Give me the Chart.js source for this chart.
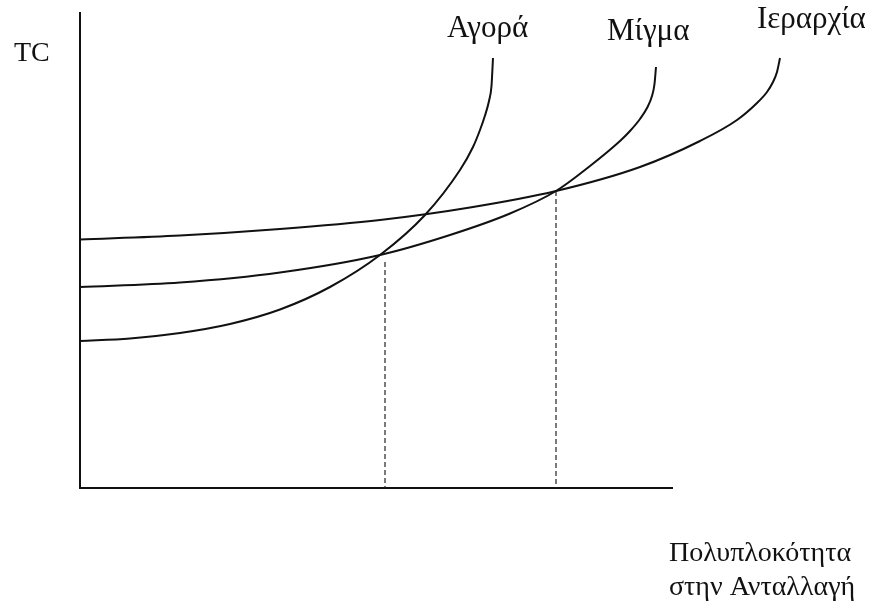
<!DOCTYPE html>
<html>
<head>
<meta charset="utf-8">
<script src="https://cdn.jsdelivr.net/npm/chart.js@4.4.1/dist/chart.umd.min.js"></script>
<style>
  html, body { margin: 0; padding: 0; background: #fff; }
  #wrap { width: 869px; height: 602px; position: relative; }
</style>
</head>
<body>
<div id="wrap"><canvas id="tc_chart"></canvas></div>
<script>
// curves (x = complexity, y = transaction cost, arbitrary units)
var agoraX    = [0, 5, 10, 15, 20, 25, 30, 34.5, 38, 39.3, 40, 40.5, 40.9, 41.15, 41.3];
var agoraY    = [14.7, 14.95, 15.5, 16.4, 17.85, 20.1, 23.3, 27.3, 31.8, 34.1, 35.8, 37.25, 38.7, 40.2, 43.0];

var migmaX    = [0, 10, 20, 30, 37, 43, 47.6, 51, 54, 55, 56, 56.7, 57.2, 57.45, 57.6];
var migmaY    = [20.1, 20.55, 21.55, 23.3, 25.3, 27.45, 29.7, 32.2, 34.7, 35.7, 36.9, 38.0, 39.2, 40.4, 42.1];

var ierarxiaX = [0, 10, 20, 30, 39, 47.6, 56, 62, 65.7, 67.7, 68.7, 69.3, 69.7, 70];
var ierarxiaY = [24.85, 25.25, 25.9, 26.8, 28.05, 29.7, 32.1, 34.7, 36.8, 38.5, 39.6, 40.6, 41.6, 43.0];

// dashed drop lines at the two crossings
var dropX   = [30.5, 47.6];
var dropTop = [22.6, 29.7];

// horizontal axis stops short of the plot's right side
var xAxisEnd = 59.3;

var curveNames = ['Αγορά', 'Μίγμα', 'Ιεραρχία'];
var nameX      = [36.7, 52.7, 67.7];
var nameY      = [45.1, 44.8, 46.0];

var yTitle  = 'TC';
var yTitleX = -6.6, yTitleY = 42.7;
var xTitle  = ['Πολυπλοκότητα', 'στην Ανταλλαγή'];
var xTitleX = 58.9, xTitleY = [-7.3, -10.7];

var xMax = 78, yMax = 47.5;

function toPoints(xs, ys) {
    var pts = [];
    for (var i = 0; i < xs.length; ++i) {
        pts.push({x: xs[i], y: ys[i]});
    }
    return pts;
}

var SERIF = '"Liberation Serif", "DejaVu Serif", serif';

var datasets = [];
[[agoraX, agoraY], [migmaX, migmaY], [ierarxiaX, ierarxiaY]].forEach(function(c, i) {
    datasets.push({
        label: curveNames[i],
        data: toPoints(c[0], c[1]),
        borderColor: '#111',
        borderWidth: 2,
        pointRadius: 0,
        fill: false,
        cubicInterpolationMode: 'monotone',
        clip: false
    });
});
for (var i = 0; i < dropX.length; ++i) {
    datasets.push({
        label: 'drop' + i,
        data: [{x: dropX[i], y: dropTop[i]}, {x: dropX[i], y: 0}],
        borderColor: '#222',
        borderWidth: 1.2,
        borderDash: [5, 3],
        pointRadius: 0,
        fill: false,
        clip: false
    });
}
datasets.push({
    label: 'x axis',
    data: [{x: 0, y: 0}, {x: xAxisEnd, y: 0}],
    borderColor: '#111',
    borderWidth: 2,
    pointRadius: 0,
    fill: false,
    clip: false
});

var textPlugin = {
    id: 'textLabels',
    afterDraw: function(chart) {
        var ctx = chart.ctx;
        var sx = chart.scales.x, sy = chart.scales.y;
        ctx.save();
        ctx.fillStyle = '#111';
        ctx.textAlign = 'left';
        ctx.textBaseline = 'alphabetic';
        ctx.font = '31px ' + SERIF;
        for (var i = 0; i < curveNames.length; ++i) {
            ctx.fillText(curveNames[i], sx.getPixelForValue(nameX[i]), sy.getPixelForValue(nameY[i]));
        }
        ctx.font = '28px ' + SERIF;
        ctx.fillText(yTitle, sx.getPixelForValue(yTitleX), sy.getPixelForValue(yTitleY));
        for (var j = 0; j < xTitle.length; ++j) {
            ctx.fillText(xTitle[j], sx.getPixelForValue(xTitleX), sy.getPixelForValue(xTitleY[j]));
        }
        ctx.restore();
    }
};

new Chart(document.getElementById('tc_chart'), {
    type: 'line',
    data: { datasets: datasets },
    plugins: [textPlugin],
    options: {
        responsive: true,
        maintainAspectRatio: false,
        animation: false,
        devicePixelRatio: 1,
        layout: { padding: { left: 80, right: 9, top: 13, bottom: 114 } },
        plugins: {
            legend: { display: false },
            tooltip: { enabled: false }
        },
        scales: {
            x: {
                type: 'linear',
                min: 0,
                max: xMax,
                grid: { display: false, drawTicks: false },
                ticks: { display: false },
                border: { display: false }
            },
            y: {
                type: 'linear',
                min: 0,
                max: yMax,
                grid: { display: false, drawTicks: false },
                ticks: { display: false },
                border: { display: true, color: '#111', width: 2 }
            }
        }
    }
});
</script>
</body>
</html>
